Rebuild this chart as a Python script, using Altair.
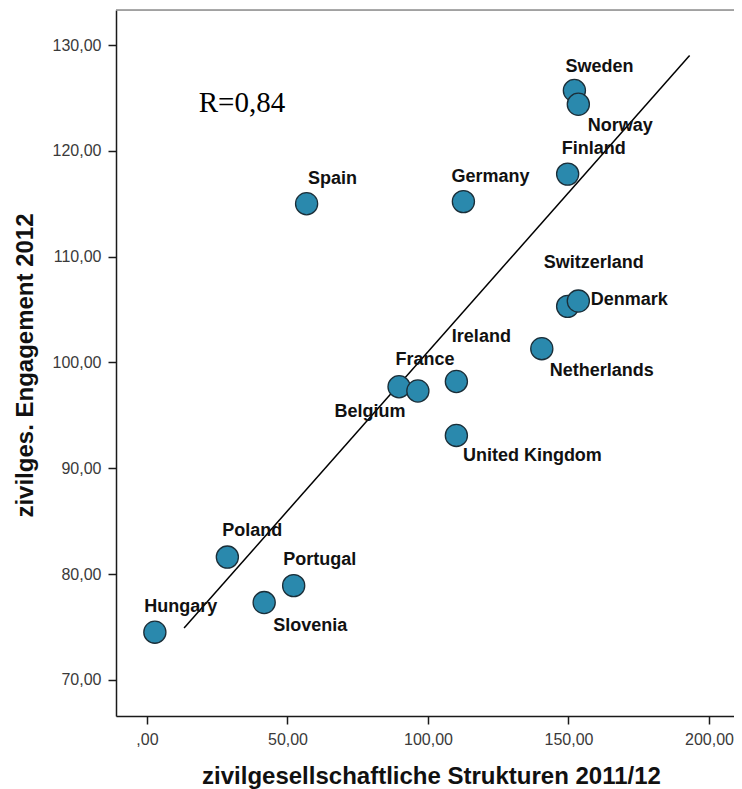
import altair as alt
import pandas as pd

# ---- data ----
countries = ["Hungary", "Poland", "Slovenia", "Portugal", "Spain", "France", "Belgium",
             "Ireland", "United Kingdom", "Netherlands", "Germany", "Switzerland",
             "Denmark", "Finland", "Sweden", "Norway"]
strukturen = [2.8, 28.6, 41.7, 52.2, 56.8, 89.7, 96.4, 110.1, 110.1, 140.5, 112.6,
              149.7, 153.5, 149.7, 152.1, 153.5]
engagement = [74.5, 81.6, 77.3, 78.9, 115.0, 97.7, 97.3, 98.2, 93.1, 101.3, 115.2,
              105.3, 105.8, 117.8, 125.7, 124.4]
fit_x = [13.2, 193.1]
fit_y = [74.9, 129.0]
x_ticks = [0, 50, 100, 150, 200]
y_ticks = [70, 80, 90, 100, 110, 120, 130]
r_label = "R=0,84"
r_pos_x = [18.4]
r_pos_y = [124.5]

# label placement (pixel offsets from the point centre) - layout only
label_offsets = {
    "Hungary": (26, -25), "Poland": (25, -26), "Slovenia": (46, 23), "Portugal": (26, -26),
    "Spain": (26, -25), "France": (26, -27), "Belgium": (-48, 21), "Ireland": (25, -44),
    "United Kingdom": (76, 21), "Netherlands": (60, 22), "Germany": (27, -25),
    "Switzerland": (26, -43), "Denmark": (51, -1), "Finland": (26, -25),
    "Sweden": (25, -24), "Norway": (42, 22),
}

pts = pd.DataFrame({"country": countries, "x": strukturen, "y": engagement})
fit = pd.DataFrame({"x": fit_x, "y": fit_y})
rdf = pd.DataFrame({"x": r_pos_x, "y": r_pos_y, "t": [r_label]})

W, H = 618, 706
XDOM = [-11.03, 208.9]
YDOM = [66.58, 133.31]
FONT = "Liberation Sans"
label_expr = "datum.value == 0 ? ',00' : replace(format(datum.value, '.2f'), '.', ',')"

common_axis = dict(
    labelExpr=label_expr, labelFont=FONT, labelFontSize=16, labelColor="#3a3a3a",
    labelPadding=7, tickSize=8, tickColor="#1a1a1a", tickWidth=1.5,
    domainColor="#1a1a1a", domainWidth=1.5, grid=False, labelFlush=False,
    labelOverlap=False, titleFont=FONT, titleFontSize=24, titleFontWeight="bold",
    titleColor="#111111", titleAlign="center", titleBaseline="alphabetic",
)

x_enc = alt.X("x:Q", scale=alt.Scale(domain=XDOM, nice=False, zero=False),
              axis=alt.Axis(values=x_ticks, title="zivilgesellschaftliche Strukturen 2011/12",
                            titleX=315, titleY=67, **common_axis))
y_enc = alt.Y("y:Q", scale=alt.Scale(domain=YDOM, nice=False, zero=False),
              axis=alt.Axis(values=y_ticks, title="zivilges. Engagement 2012",
                            titleX=-84, titleY=355, titleAngle=270, **common_axis))

top_border = alt.Chart(pd.DataFrame({"a": [0]})).mark_rule(color="#8c8c8c", strokeWidth=1.5).encode(
    x=alt.value(0), x2=alt.value(W), y=alt.value(0))

line = alt.Chart(fit).mark_line(color="#000000", strokeWidth=1.5).encode(x=x_enc, y=y_enc)

points = alt.Chart(pts).mark_circle(
    size=490, color="#2a89ad", opacity=1, stroke="#1b2e38", strokeWidth=1.3
).encode(x=x_enc, y=y_enc)

texts = []
for c in countries:
    dx, dy = label_offsets[c]
    texts.append(
        alt.Chart(pts[pts.country == c]).mark_text(
            font=FONT, fontSize=18, fontWeight="bold", color="#111111",
            align="center", baseline="middle", dx=dx, dy=dy
        ).encode(x=x_enc, y=y_enc, text="country:N")
    )

rtext = alt.Chart(rdf).mark_text(
    font="Liberation Serif", fontSize=29, color="#000000", align="left", baseline="middle"
).encode(x=x_enc, y=y_enc, text="t:N")

chart = alt.layer(top_border, line, points, *texts, rtext).properties(
    width=W, height=H,
    padding={"left": 108, "top": 2, "right": 0, "bottom": 74},
    autosize=alt.AutoSizeParams(type="none"),
).configure_view(stroke="transparent", strokeWidth=0).configure(background="white")

chart.save("out.html", embed_options={"renderer": "svg", "actions": False})
